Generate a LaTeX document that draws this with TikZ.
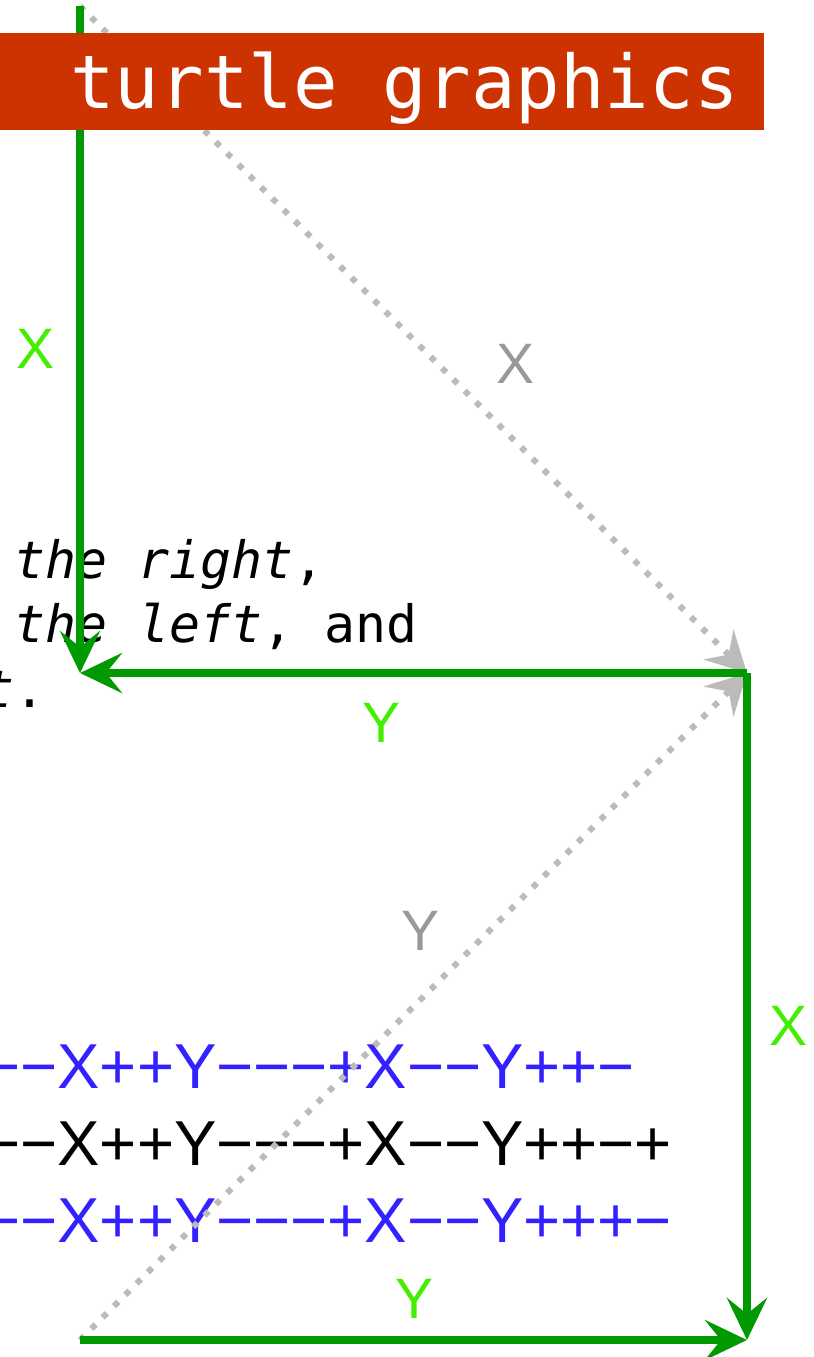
\documentclass[tikz,border=0pt]{standalone}
\usepackage{fontspec}
\setmainfont{Liberation Sans}
\newfontfamily\codefont{DejaVu Sans Mono}
\usetikzlibrary{arrows.meta}
\definecolor{turtlegreen}{RGB}{0,153,0}
\definecolor{labelgreen}{RGB}{68,238,0}
\definecolor{ghostgray}{RGB}{187,187,187}
\definecolor{labelgray}{RGB}{153,153,153}
\definecolor{titlered}{RGB}{204,51,0}
\definecolor{stringblue}{RGB}{51,34,255}

\begin{document}
\begin{tikzpicture}[
    x=0.5pt, y=-0.5pt,
    move/.style={draw=turtlegreen, line width=3.8pt,
                 -{Stealth[length=21pt,width=20pt,inset=8pt]}},
    ghost/.style={draw=ghostgray, line width=3pt, dash pattern=on 3pt off 5pt,
                  -{Stealth[length=20pt,width=21pt,inset=7pt]}},
    steplabel/.style={text=labelgreen, inner sep=0pt, font=\fontsize{28.5}{34}\selectfont},
    ghostlabel/.style={steplabel, text=labelgray},
    titlebar/.style={rectangle, fill=titlered, inner sep=0pt,
                     minimum width=382pt, minimum height=48.5pt},
    titletext/.style={text=white, inner sep=0pt, font=\codefont\fontsize{37}{44}\selectfont},
    codeline/.style={inner sep=0pt, font=\codefont\fontsize{25.75}{30}\selectfont},
    lstring/.style={inner sep=0pt, text=#1, font=\fontsize{31.75}{38}\selectfont}
]
\useasboundingbox (0,0) rectangle (814,1357);

% text of the slide
\node[codeline, anchor=base west] (ruleright) at (14,578) {\textit{the right},};
\node[codeline, anchor=base west] (ruleleft) at (14,642) {\textit{the left}, and};
\node[codeline, anchor=base west] (rulerest) at (-17,707) {\textit{t}.};

% strings
\node[lstring=stringblue, anchor=base west] (strA) at (-17,1088) {−−X++Y−−−+X−−Y++−};
\node[lstring=black, anchor=base west] (strB) at (-17,1165) {−−X++Y−−−+X−−Y++−+};
\node[lstring=stringblue, anchor=base west] (strC) at (-17,1242) {−−X++Y−−−+X−−Y+++−};

% turtle corners
\coordinate (start) at (80,6);
\coordinate (turn) at (80,673);
\coordinate (corner) at (747,673);
\coordinate (endR) at (747,1340);
\coordinate (endL) at (80,1340);

% shortcuts
\draw[ghost] (start) -- (corner);
\draw[ghost] (endL) -- (corner);

% moves
\draw[move] (start) -- (turn);
\draw[move] (corner) -- (turn);
\draw[move] (corner) -- (endR);
\draw[move] (endL) -- (endR);

% labels
\node[steplabel] (xone) at (36,349) {X};
\node[ghostlabel] (xghost) at (516,364) {X};
\node[steplabel] (yone) at (382,723) {Y};
\node[ghostlabel] (yghost) at (421,931) {Y};
\node[steplabel] (xtwo) at (789,1026) {X};
\node[steplabel] (ytwo) at (415,1299) {Y};

% title
\node[titlebar, anchor=north west] (titlebox) at (0,33) {};
\node[titletext, anchor=base west] (title) at (70,108) {turtle graphics};

\end{tikzpicture}
\end{document}
